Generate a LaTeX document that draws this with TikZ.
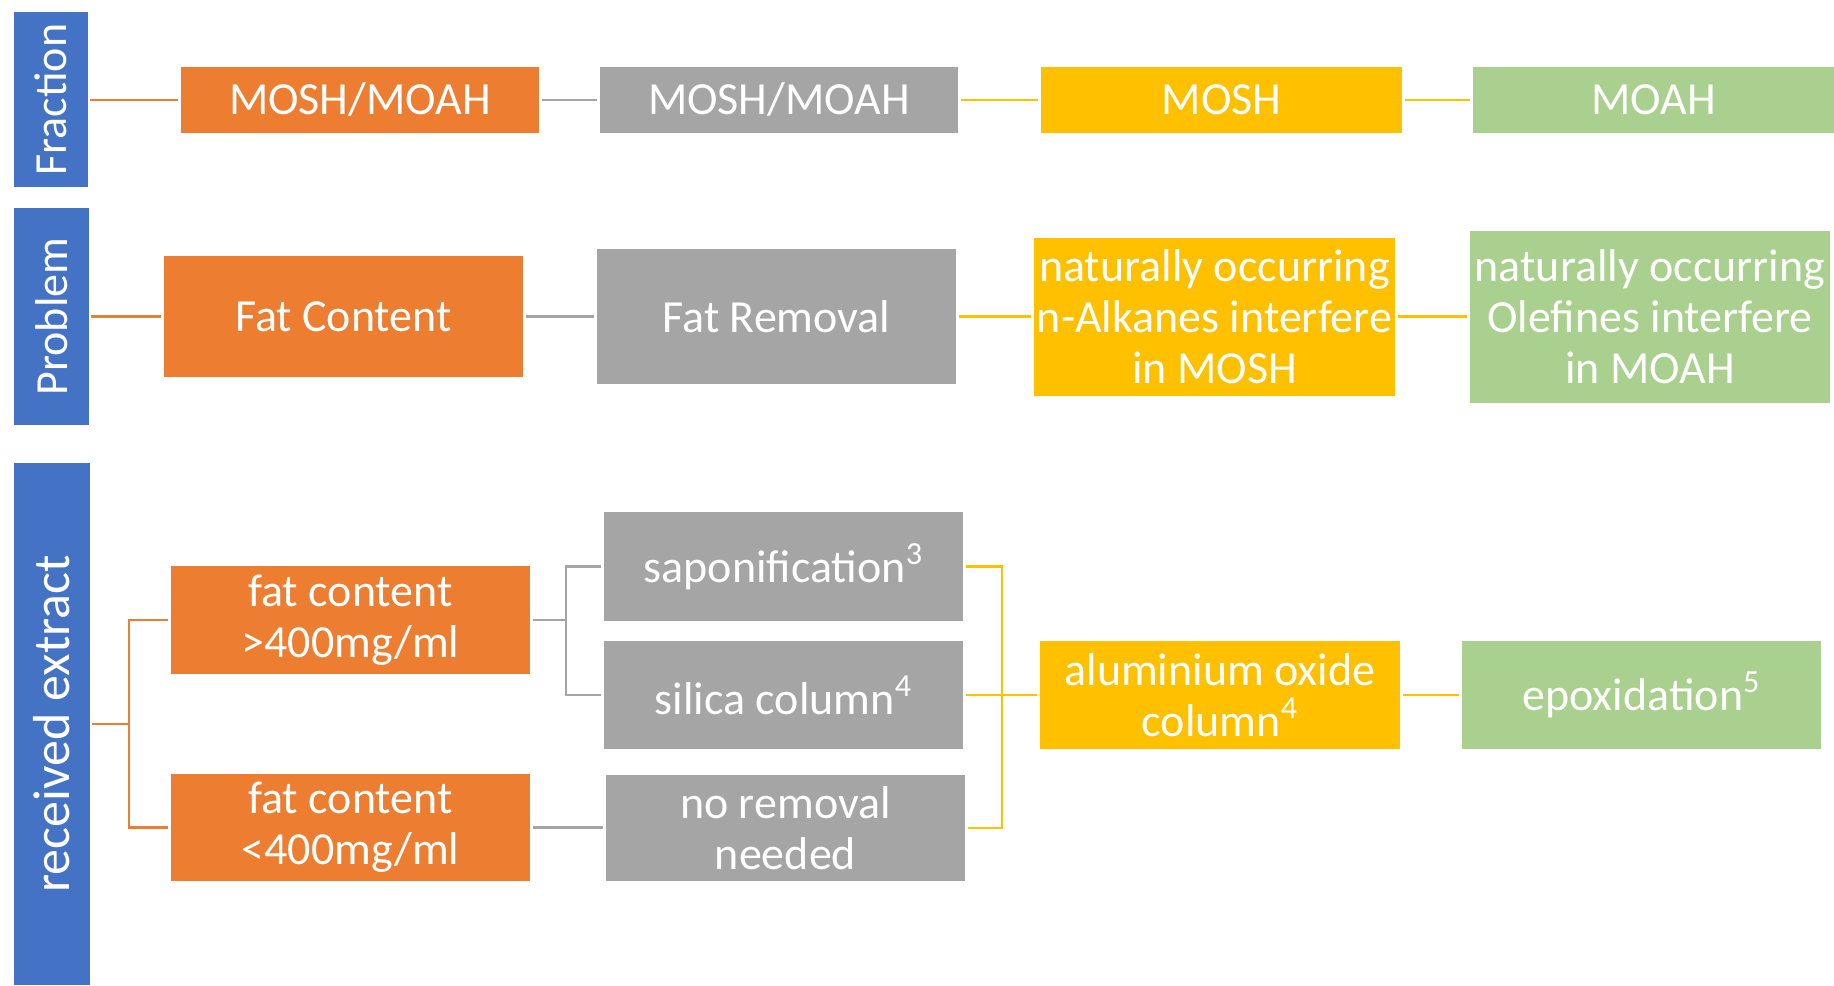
\documentclass[tikz,border=0pt]{standalone}
\usepackage{fontspec}
\setmainfont{Carlito}
\usepackage{tikz}
\usetikzlibrary{positioning,calc}
\definecolor{barblue}{RGB}{68,114,196}
\definecolor{fatorange}{RGB}{237,125,49}
\definecolor{remgray}{RGB}{165,165,165}
\definecolor{moshyel}{RGB}{255,192,0}
\definecolor{moahgreen}{RGB}{169,208,142}
\tikzset{
  box/.style={inner sep=1pt,outer sep=1.5pt,align=center,text=white,
    font=\fontsize{23}{25.5}\selectfont},
  side/.style={box,fill=barblue,rotate=90,outer sep=1pt},
  obox/.style={box,fill=fatorange},
  gbox/.style={box,fill=remgray},
  ybox/.style={box,fill=moshyel},
  grbox/.style={box,fill=moahgreen},
  link/.style={line width=1.4pt},
  olink/.style={link,fatorange},
  glink/.style={link,remgray},
  ylink/.style={link,moshyel},
}

\begin{document}
\begin{tikzpicture}[x=0.5pt,y=-0.5pt]
  \useasboundingbox (0,0) rectangle (1834,985);
  % side bars (rotated, so .south is the right edge)
  \node[side,minimum width=87.5pt,minimum height=37pt] (frac) at (51,99.5) {Fraction};
  \node[side,minimum width=108.5pt,minimum height=37.5pt] (prob) at (51.5,316.5) {Problem};
  \node[side,minimum width=261pt,minimum height=38pt,
    font=\fontsize{26}{28}\selectfont] (rec) at (52,724) {received extract};

  % fraction row
  \node[obox,minimum width=179pt,minimum height=33pt] (o1) at (360,100) {MOSH/MOAH};
  \node[gbox,minimum width=179pt,minimum height=33pt] (g1) at (779,100) {MOSH/MOAH};
  \node[ybox,minimum width=180.5pt,minimum height=33pt] (y1) at (1221.5,100) {MOSH};
  \node[grbox,minimum width=180.5pt,minimum height=33pt] (gr1) at (1653.5,100) {MOAH};
  \draw[olink] (frac.south |- o1.west) -- (o1.west);
  \draw[glink] (o1) -- (g1);
  \draw[ylink] (g1) -- (y1);
  \draw[ylink] (y1) -- (gr1);

  % problem row
  \node[obox,minimum width=179.5pt,minimum height=60.5pt] (o2) at (343.5,316.5) {Fat Content};
  \node[gbox,minimum width=179.5pt,minimum height=67.5pt] (g2) at (776.5,316.5) {Fat Removal};
  \node[ybox,minimum width=180.5pt,minimum height=79pt] (y2) at (1214.5,316.5)
    {naturally occurring\\n-Alkanes interfere\\in MOSH};
  \node[grbox,minimum width=180pt,minimum height=86pt] (gr2) at (1650,316.5)
    {naturally occurring\\Olefines interfere\\in MOAH};
  \draw[olink] (prob.south |- o2.west) -- (o2.west);
  \draw[glink] (o2) -- (g2);
  \draw[ylink] (g2) -- (y2);
  \draw[ylink] (y2) -- (gr2);

  % received extract
  \node[obox,minimum width=179.5pt,minimum height=54pt] (f1) at (350.5,620) {fat content\\>400mg/ml};
  \node[obox,minimum width=179.5pt,minimum height=53.5pt] (f2) at (350.5,827.5) {fat content\\<400mg/ml};
  \node[gbox,minimum width=179.5pt,minimum height=54.5pt] (sap) at (783.5,566.5) {saponification\textsuperscript{3}};
  \node[gbox,minimum width=179.5pt,minimum height=54pt] (sil) at (783.5,695) {silica column\textsuperscript{4}};
  \node[gbox,minimum width=179.5pt,minimum height=53pt] (nor) at (785.5,828) {no removal\\needed};
  \node[ybox,minimum width=180pt,minimum height=54pt] (alu) at (1220,695) {aluminium oxide\\column\textsuperscript{4}};
  \node[grbox,minimum width=179.5pt,minimum height=54pt] (epo) at (1641.5,695) {epoxidation\textsuperscript{5}};

  \coordinate (ob) at (129,724);
  \coordinate (gb) at (566,620);
  \coordinate (yb) at (1002,695);
  \draw[olink] (rec.south) -- (ob);
  \draw[olink] (f1.west) -| (ob) |- (f2.west);
  \draw[glink] (f1.east) -- (gb);
  \draw[glink] (sap.west) -| (gb) |- (sil.west);
  \draw[glink] (f2.east) -- (nor.west |- f2.east);
  \draw[ylink] (sap.east) -| (yb) |- (nor.east);
  \draw[ylink] (sil) -- (alu);
  \draw[ylink] (alu) -- (epo);
\end{tikzpicture}
\end{document}
